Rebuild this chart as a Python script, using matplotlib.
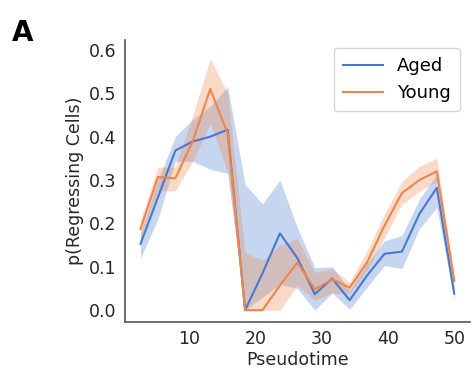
import numpy as np
import matplotlib
matplotlib.use("Agg")
import matplotlib.pyplot as plt

# pseudotime bin centres
pseudotime = np.array([2.63, 5.26, 7.89, 10.53, 13.16, 15.79, 18.42, 21.05, 23.68, 26.32,
                       28.95, 31.58, 34.21, 36.84, 39.47, 42.11, 44.74, 47.37, 50.0])

aged_mean = [0.153, 0.26, 0.368, 0.389, 0.40, 0.416, 0.0, 0.085, 0.177, 0.12,
             0.037, 0.073, 0.023, 0.08, 0.13, 0.135, 0.222, 0.282, 0.038]
aged_lo = [0.12, 0.21, 0.343, 0.343, 0.325, 0.315, 0.0, 0.03, 0.06, 0.05,
           0.0, 0.04, 0.002, 0.053, 0.103, 0.096, 0.188, 0.236, 0.025]
aged_hi = [0.176, 0.30, 0.40, 0.44, 0.47, 0.515, 0.29, 0.245, 0.30, 0.19,
           0.098, 0.10, 0.046, 0.107, 0.16, 0.172, 0.256, 0.313, 0.05]

young_mean = [0.187, 0.307, 0.304, 0.39, 0.51, 0.407, 0.0, 0.0, 0.057, 0.11,
              0.048, 0.071, 0.052, 0.11, 0.195, 0.27, 0.30, 0.32, 0.068]
young_lo = [0.167, 0.275, 0.275, 0.343, 0.43, 0.32, 0.0, 0.0, 0.0, 0.057,
            0.023, 0.039, 0.038, 0.092, 0.167, 0.244, 0.274, 0.297, 0.05]
young_hi = [0.21, 0.33, 0.33, 0.45, 0.58, 0.50, 0.133, 0.115, 0.15, 0.165,
            0.087, 0.096, 0.064, 0.137, 0.222, 0.297, 0.332, 0.35, 0.077]

blue = "#4878d0"
orange = "#ee854a"

fig = plt.figure(figsize=(4.72, 3.73), dpi=100)
ax = fig.add_axes([0.265, 0.137, 0.731, 0.756])

ax.fill_between(pseudotime, aged_lo, aged_hi, color=blue, alpha=0.3, lw=0)
ax.plot(pseudotime, aged_mean, color=blue, lw=1.5, label="Aged")
ax.fill_between(pseudotime, young_lo, young_hi, color=orange, alpha=0.3, lw=0)
ax.plot(pseudotime, young_mean, color=orange, lw=1.5, label="Young")

ax.set_xlim(0.3, 52.4)
ax.set_ylim(-0.027, 0.623)
ax.set_xticks([10, 20, 30, 40, 50])
ax.set_yticks([0.0, 0.1, 0.2, 0.3, 0.4, 0.5, 0.6])
ax.tick_params(length=0, labelsize=12.5, colors="#262626", pad=6)
ax.set_xlabel("Pseudotime", fontsize=12.5, color="#262626", labelpad=2)
ax.set_ylabel("p(Regressing Cells)", fontsize=12.5, color="#262626", labelpad=4)
for s in ["top", "right"]:
    ax.spines[s].set_visible(False)
for s in ["left", "bottom"]:
    ax.spines[s].set_color("#555555")
    ax.spines[s].set_linewidth(1.2)

leg = ax.legend(loc="upper right", fontsize=13, frameon=True, borderpad=0.5,
                handlelength=2.2, borderaxespad=0, bbox_to_anchor=(0.97, 0.97))
leg.get_frame().set_edgecolor("#cccccc")

fig.text(0.025, 0.89, "A", fontsize=20, fontweight="bold")

fig.savefig("out.png", dpi=100)
